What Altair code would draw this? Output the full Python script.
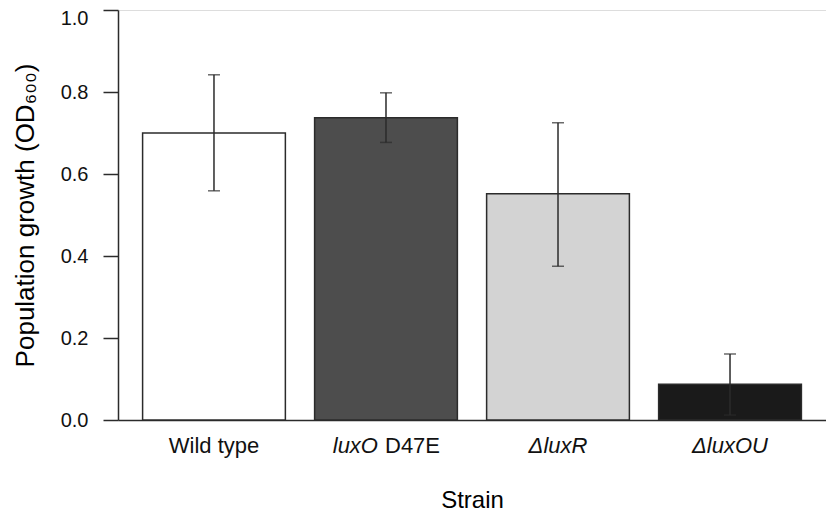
import altair as alt
import pandas as pd

strains = ["Wild type", "luxO D47E", "ΔluxR", "ΔluxOU"]
means = [0.700, 0.737, 0.552, 0.087]
lower = [0.559, 0.677, 0.375, 0.012]
upper = [0.842, 0.798, 0.725, 0.161]
fills = ["#ffffff", "#4d4d4d", "#d3d3d3", "#1a1a1a"]
italic_part = ["", "luxO", "ΔluxR", "ΔluxOU"]
plain_part = ["Wild type", "D47E", "", ""]
y_ticks = [0.0, 0.2, 0.4, 0.6, 0.8, 1.0]

df = pd.DataFrame({"strain": strains, "mean": means, "lo": lower, "hi": upper,
                   "ital": italic_part, "plain": plain_part})

FONT = "Liberation Sans"
LINE = "#2b2b2b"
W, H = 708, 410

xenc = alt.X("strain:N", sort=strains,
             scale=alt.Scale(paddingInner=0.17, paddingOuter=0.143),
             axis=alt.Axis(labels=False, ticks=False, domain=True, domainColor=LINE,
                           domainWidth=1.5, title="Strain", titleFont=FONT,
                           titleFontSize=24, titleFontWeight="normal", titleColor="#000",
                           titleY=87, titleBaseline="alphabetic"))

base = alt.Chart(df)

bars = base.mark_bar(stroke=LINE, strokeWidth=1.5).encode(
    x=xenc,
    y=alt.Y("mean:Q", scale=alt.Scale(domain=[0, 1], nice=False),
            axis=alt.Axis(values=y_ticks, format=".1f", tickSize=15, tickColor=LINE,
                          tickWidth=1.5, labelFont=FONT, labelFontSize=20,
                          labelColor="#111", labelPadding=15, grid=False,
                          labelOffset={"condition": {"test": "datum.value == 1", "value": 8},
                                       "value": 0},
                          domainColor=LINE, domainWidth=1.5,
                          title="Population growth (OD₆₀₀)", titleFont=FONT,
                          titleFontSize=26, titleFontWeight="normal", titleColor="#000",
                          titleAngle=270, titleX=-93, titleY=205,
                          titleAlign="center", titleBaseline="middle")),
    color=alt.Color("strain:N", scale=alt.Scale(domain=strains, range=fills), legend=None),
)

rule = base.mark_rule(color=LINE, strokeWidth=1.5).encode(
    x=alt.X("strain:N", sort=strains), y="lo:Q", y2="hi:Q")
cap_lo = base.mark_tick(color=LINE, size=12, thickness=1.5).encode(
    x=alt.X("strain:N", sort=strains), y="lo:Q")
cap_hi = base.mark_tick(color=LINE, size=12, thickness=1.5).encode(
    x=alt.X("strain:N", sort=strains), y="hi:Q")

layers = [bars, rule, cap_lo, cap_hi]
LABEL_Y = 443
for s, it, pl in zip(strains, italic_part, plain_part):
    sub = base.transform_filter(alt.datum.strain == s)
    if it and pl:
        layers.append(sub.mark_text(font=FONT, fontSize=22, fontStyle="italic", align="right",
                                    baseline="alphabetic", dx=-8, color="#111").encode(
            x=alt.X("strain:N", sort=strains), y=alt.value(LABEL_Y), text="ital:N"))
        layers.append(sub.mark_text(font=FONT, fontSize=22, align="left",
                                    baseline="alphabetic", dx=-1, color="#111").encode(
            x=alt.X("strain:N", sort=strains), y=alt.value(LABEL_Y), text="plain:N"))
    elif it:
        layers.append(sub.mark_text(font=FONT, fontSize=22, fontStyle="italic", align="center",
                                    baseline="alphabetic", color="#111").encode(
            x=alt.X("strain:N", sort=strains), y=alt.value(LABEL_Y), text="ital:N"))
    else:
        layers.append(sub.mark_text(font=FONT, fontSize=22, align="center",
                                    baseline="alphabetic", color="#111").encode(
            x=alt.X("strain:N", sort=strains), y=alt.value(LABEL_Y), text="plain:N"))

chart = alt.layer(*layers).properties(
    width=W, height=H,
    autosize=alt.AutoSizeParams(type="none"),
    padding={"left": 110, "top": 2, "right": 0, "bottom": 91},
).configure_view(stroke=LINE, strokeWidth=1.5).configure(background="white")

chart.save("out.html", embed_options={"renderer": "svg", "actions": False})
